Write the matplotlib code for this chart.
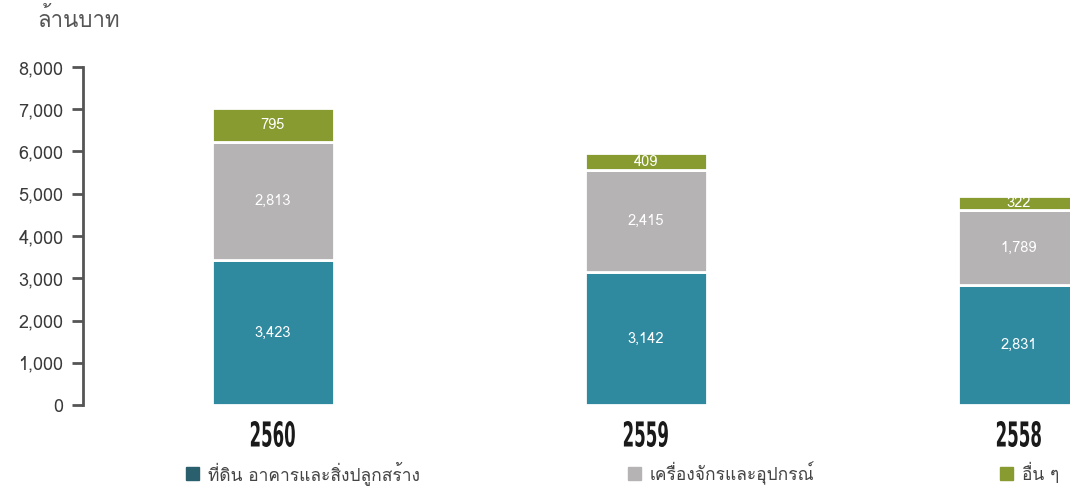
import matplotlib.pyplot as plt
from matplotlib import font_manager, ft2font
from matplotlib.patches import Rectangle, PathPatch
from matplotlib.textpath import TextPath
from matplotlib.transforms import Affine2D

# ----- data -----
years = ['2560', '2559', '2558']
land_buildings = [3423, 3142, 2831]
machinery = [2813, 2415, 1789]
others = [795, 409, 322]
series_names = ['ที่ดิน อาคารและสิ่งปลูกสร้าง', 'เครื่องจักรและอุปกรณ์', 'อื่น ๆ']
yticks = [0, 1000, 2000, 3000, 4000, 5000, 6000, 7000, 8000]

BLUE = '#2f8a9f'
BLUE_DARK = '#2a5f6e'
GRAY = '#b5b3b4'
GREEN = '#879b30'
TEXT = '#444444'

W, H = 1070, 488


def thai_family():
    # look for any installed font that can draw Thai
    for f in font_manager.fontManager.ttflist:
        try:
            cmap = ft2font.FT2Font(f.fname).get_charmap()
        except Exception:
            continue
        if 0x0E01 in cmap and 0x0E32 in cmap:
            return f.name
    return None


fam = ['DejaVu Sans']
th = thai_family()
if th:
    fam = [th, 'DejaVu Sans']
plt.rcParams['font.family'] = fam


def tall_label(fig, s, cx, cy, w_px, h_px, color):
    # condensed display numerals: squeeze a bold text path into a w x h box (pixels)
    prop = font_manager.FontProperties(family='DejaVu Sans', weight='semibold')
    path = TextPath((0, 0), s, size=30, prop=prop)
    ext = path.get_extents()
    sx = w_px / ext.width
    sy = h_px / ext.height
    tr = (Affine2D().translate(-(ext.x0 + ext.width / 2), -(ext.y0 + ext.height / 2))
          .scale(sx, sy).translate(cx, H - cy))
    fig.patches.append(PathPatch(path, transform=tr, color=color, lw=0))


def main():
    fig = plt.figure(figsize=(W / 100, H / 100), dpi=100)
    ax = fig.add_axes([83 / W, 1 - 405 / H, 1 - 83 / W, (405 - 67) / H])

    x = range(len(years))
    width = 0.327
    bottoms2 = land_buildings
    bottoms3 = [a + b for a, b in zip(land_buildings, machinery)]
    for vals, bot, col in [(land_buildings, [0] * 3, BLUE),
                           (machinery, bottoms2, GRAY),
                           (others, bottoms3, GREEN)]:
        bars = ax.bar(x, vals, width, bottom=bot, color=col,
                      edgecolor='white', linewidth=2)
        for b, v, b0 in zip(bars, vals, bot):
            ax.text(b.get_x() + b.get_width() / 2, b0 + v / 2, f'{v:,}',
                    ha='center', va='center', color='white', fontsize=10.5)

    ax.set_xlim(-0.509, 2.137)
    ax.set_ylim(0, 8000)
    ax.set_yticks(yticks)
    ax.set_yticklabels([f'{t:,}' for t in yticks])
    ax.tick_params(axis='y', length=8, width=2, color='#555555',
                   labelsize=13, labelcolor='#3a3a3a', pad=6)
    ax.set_xticks([])
    for s in ['top', 'right', 'bottom']:
        ax.spines[s].set_visible(False)
    ax.spines['left'].set_color('#555555')
    ax.spines['left'].set_linewidth(2)

    # year labels under each bar, centred on the bars
    fig.canvas.draw()
    for i, y in enumerate(years):
        px = ax.transData.transform((i, 0))[0]
        tall_label(fig, y, px, 434, 44, 26, '#1a1a1a')

    fig.text(37 / W, 1 - 20 / H, 'ล้านบาท', fontsize=16, color='#555555',
             va='center', ha='left')

    # legend
    leg_x = [186, 628, 1000]
    leg_cols = [BLUE_DARK, GRAY, GREEN]
    for lx, col, name in zip(leg_x, leg_cols, series_names):
        fig.patches.append(Rectangle((lx / W, 1 - 480 / H), 13 / W, 13 / H,
                                     transform=fig.transFigure, color=col))
        fig.text((lx + 22) / W, 1 - 473 / H, name, fontsize=12.5,
                 color=TEXT, va='center', ha='left')

    fig.savefig('out.png', dpi=100)


if __name__ == '__main__':
    main()
